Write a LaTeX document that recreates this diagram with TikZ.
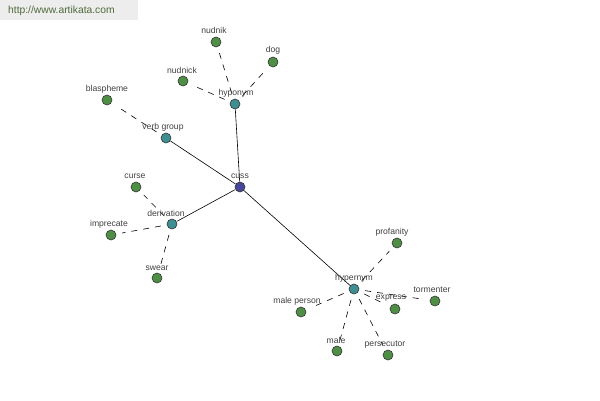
\documentclass[tikz,border=0pt]{standalone}
\usepackage{fontspec}
\setmainfont{Liberation Sans}
\begin{document}
\begin{tikzpicture}[x=1pt,y=-1pt,
  vtx/.style={circle,draw=black!80,line width=0.6pt,minimum size=10pt,inner sep=0pt},
  leaf/.style={vtx,fill=leafc},
  mid/.style={vtx,fill=midc},
  root/.style={vtx,fill=rootc},
  lbl/.style={font=\fontsize{8.6}{9}\selectfont,text=black!75,inner sep=0pt},
  strong/.style={draw=black,line width=0.6pt},
  weak/.style={draw=black,line width=0.6pt,dash pattern=on 6pt off 6pt,shorten >=6pt,shorten <=6pt}]
\definecolor{leafc}{HTML}{4E8F45}
\definecolor{midc}{HTML}{3E8E92}
\definecolor{rootc}{HTML}{45479A}
\definecolor{wmc}{HTML}{4F6A3C}
\useasboundingbox (0,0) rectangle (600,400);
\fill[fill=black!7] (0,0) rectangle (138,20);
\node[anchor=west,font=\fontsize{10.3}{11}\selectfont,text=wmc,inner sep=0pt] (wm) at (8,11) {http://www.artikata.com};
% nodes
\node[root] (cuss) at (240,187) {};
\node[mid] (hypo) at (235,104) {};
\node[leaf] (nudnik) at (216,42) {};
\node[leaf] (dog) at (273,62) {};
\node[leaf] (nudnick) at (183,81) {};
\node[mid] (verb) at (166,138) {};
\node[leaf] (blas) at (107,100) {};
\node[mid] (deriv) at (172,224) {};
\node[leaf] (curse) at (136,187) {};
\node[leaf] (impr) at (111,235) {};
\node[leaf] (swear) at (157,278) {};
\node[mid] (hyper) at (354,289) {};
\node[leaf] (prof) at (397,243) {};
\node[leaf] (torm) at (435,301) {};
\node[leaf] (expr) at (395,309) {};
\node[leaf] (mperson) at (301,312) {};
\node[leaf] (male) at (337,351) {};
\node[leaf] (pers) at (388,355) {};
% edges
\draw[strong] (cuss) -- (hypo);
\draw[strong] (cuss) -- (verb);
\draw[strong] (cuss) -- (deriv);
\draw[strong] (cuss) -- (hyper);
\draw[weak] (hypo) -- (nudnik);
\draw[weak] (hypo) -- (dog);
\draw[weak] (hypo) -- (nudnick);
\draw[weak] (verb) -- (blas);
\draw[weak] (deriv) -- (curse);
\draw[weak] (deriv) -- (impr);
\draw[weak] (deriv) -- (swear);
\draw[weak] (hyper) -- (prof);
\draw[weak] (hyper) -- (torm);
\draw[weak] (hyper) -- (expr);
\draw[weak] (hyper) -- (mperson);
\draw[weak] (hyper) -- (male);
\draw[weak] (hyper) -- (pers);
% labels
\node[lbl] (lcuss) at (240,176) {cuss};
\node[lbl] (lhypo) at (236,93) {hyponym};
\node[lbl] (lnudnik) at (214,30) {nudnik};
\node[lbl] (ldog) at (273,50) {dog};
\node[lbl] (lnudnick) at (182,70) {nudnick};
\node[lbl] (lverb) at (163,127) {verb group};
\node[lbl] (lblas) at (107,89) {blaspheme};
\node[lbl] (lderiv) at (166,213) {derivation};
\node[lbl] (lcurse) at (135,176) {curse};
\node[lbl] (limpr) at (109,224) {imprecate};
\node[lbl] (lswear) at (157,268) {swear};
\node[lbl] (lhyper) at (354,278) {hypernym};
\node[lbl] (lprof) at (392,232) {profanity};
\node[lbl] (ltorm) at (432,290) {tormenter};
\node[lbl] (lexpr) at (391,298) {express};
\node[lbl] (lmperson) at (297,301) {male person};
\node[lbl] (lmale) at (336,340) {male};
\node[lbl] (lpers) at (385,345) {persecutor};
\end{tikzpicture}
\end{document}
